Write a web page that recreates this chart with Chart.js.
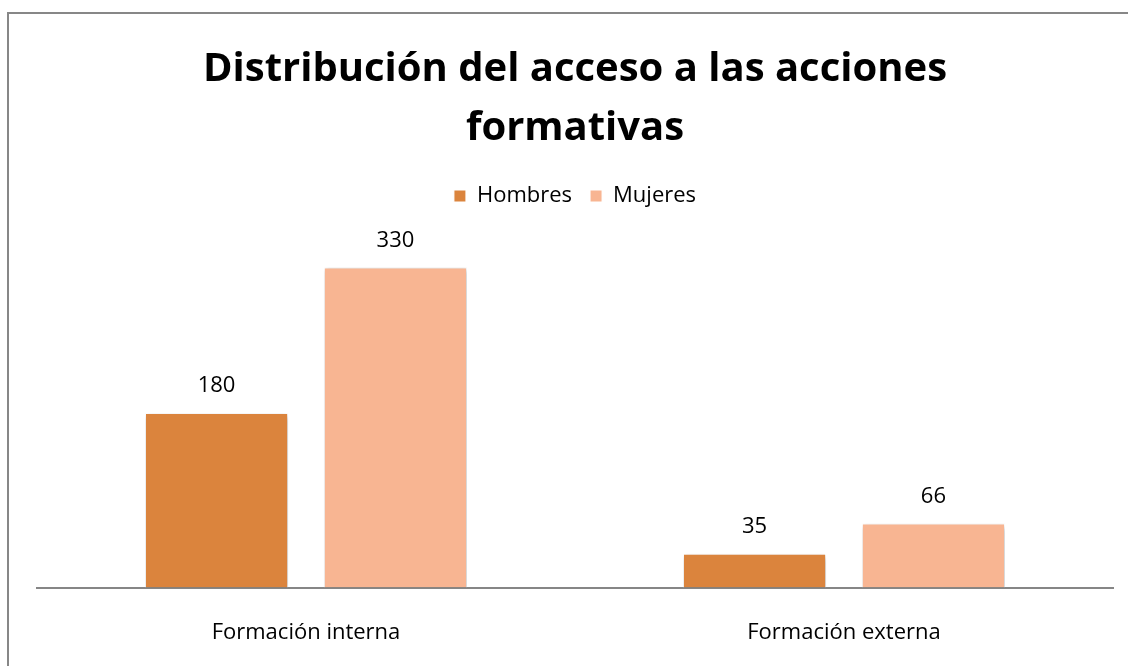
<!DOCTYPE html>
<html>
<head>
<meta charset="utf-8">
<script src="https://cdn.jsdelivr.net/npm/chart.js@4"></script>
<style>
  html, body { margin: 0; padding: 0; background: #fff; }
  #frame {
    position: absolute; left: 7px; top: 12px; width: 1121px; height: 654px;
    border-left: 2px solid #878787; border-top: 2px solid #878787;
  }
  #wrap { position: absolute; left: 0; top: 0; width: 1128px; height: 666px; }
</style>
</head>
<body>
<div id="frame"></div>
<div id="wrap"><canvas id="chart"></canvas></div>
<script>
var categories = ['Formación interna', 'Formación externa'];
var hombres = [180, 35];
var mujeres = [330, 66];
var titleLines = ['Distribución del acceso a las acciones', 'formativas'];

// values above bars + soft shadow under bars
var barExtras = {
  id: 'barExtras',
  beforeDatasetsDraw: function(chart) {
    var ctx = chart.ctx;
    ctx.save();
    ctx.shadowColor = 'rgba(0,0,0,0.3)';
    ctx.shadowBlur = 5;
    ctx.shadowOffsetX = 1;
    ctx.shadowOffsetY = 2;
  },
  afterDatasetsDraw: function(chart) {
    var ctx = chart.ctx;
    ctx.restore();
    ctx.save();
    ctx.font = '22px "Open Sans"';
    ctx.fillStyle = '#000';
    ctx.textAlign = 'center';
    ctx.textBaseline = 'middle';
    chart.data.datasets.forEach(function(ds, i) {
      chart.getDatasetMeta(i).data.forEach(function(bar, j) {
        ctx.fillText(ds.data[j], bar.x, bar.y - 27);
      });
    });
    ctx.restore();
  }
};

var ctx = document.getElementById('chart').getContext('2d');
var chart = new Chart(ctx, {
  type: 'bar',
  data: {
    labels: categories,
    datasets: [{
      label: 'Hombres',
      data: hombres,
      backgroundColor: '#DB843D',
      borderColor: '#ffffff',
      borderWidth: 1,
      barPercentage: 0.8,
      categoryPercentage: 0.665
    }, {
      label: 'Mujeres',
      data: mujeres,
      backgroundColor: '#F8B592',
      borderColor: '#ffffff',
      borderWidth: 1,
      barPercentage: 0.8,
      categoryPercentage: 0.665
    }]
  },
  options: {
    responsive: true,
    maintainAspectRatio: false,
    animation: false,
    layout: { padding: { left: 37, right: 15, top: 0, bottom: -12 } },
    plugins: {
      title: {
        display: true,
        text: titleLines,
        color: '#000',
        font: { family: 'Open Sans', size: 40, weight: 'bold', lineHeight: 1.475 },
        padding: { top: 40, bottom: 9 }
      },
      legend: {
        display: true,
        position: 'top',
        labels: {
          color: '#000',
          font: { family: 'Open Sans', size: 22 },
          boxWidth: 12,
          boxHeight: 12,
          padding: 18
        }
      },
      tooltip: { enabled: false }
    },
    scales: {
      x: {
        grid: { display: false, drawTicks: false },
        border: { display: true, color: '#868686', width: 2 },
        ticks: { color: '#000', font: { family: 'Open Sans', size: 22 }, padding: 32 }
      },
      y: {
        display: false,
        min: 0,
        max: 382
      }
    }
  },
  plugins: [barExtras]
});
</script>
</body>
</html>
